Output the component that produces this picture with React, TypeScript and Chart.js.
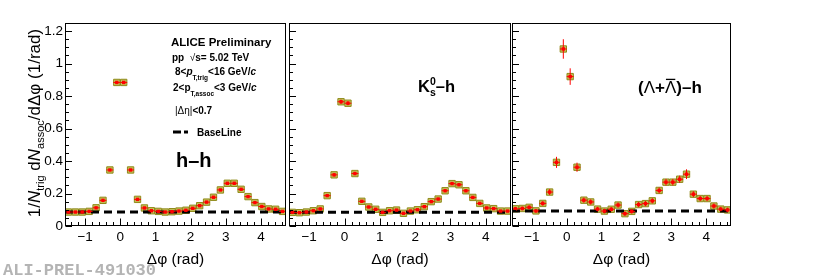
import React, { useEffect, useRef } from "react";
import { Chart, registerables } from "chart.js";

Chart.register(...registerables);

const W = 817;
const H = 278;
const FONT = "'Liberation Sans', Arial, Helvetica, sans-serif";
const MONO = "'Liberation Mono', 'DejaVu Sans Mono', monospace";

const X_MIN = -Math.PI / 2;
const X_MAX = (3 * Math.PI) / 2;
const HALF_BIN = Math.PI / 32;
const Y_MIN = 0;
const Y_MAX = 1.25;

// Δφ bin centres (rad)
const phiBins = [
  -1.4726, -1.2763, -1.0799, -0.8836, -0.6872, -0.4909, -0.2945, -0.0982,
  0.0982, 0.2945, 0.4909, 0.6872, 0.8836, 1.0799, 1.2763, 1.4726,
  1.669, 1.8653, 2.0617, 2.258, 2.4544, 2.6507, 2.8471, 3.0434,
  3.2398, 3.4361, 3.6325, 3.8288, 4.0252, 4.2215, 4.4179, 4.6142,
];

// h–h
const hhValues = [
  0.086, 0.086, 0.086, 0.09, 0.112, 0.158, 0.345, 0.884,
  0.884, 0.345, 0.164, 0.111, 0.094, 0.09, 0.086, 0.088,
  0.092, 0.097, 0.109, 0.125, 0.147, 0.177, 0.222, 0.263,
  0.263, 0.226, 0.181, 0.144, 0.12, 0.105, 0.103, 0.09,
];
const hhErrors = [
  0.003, 0.003, 0.003, 0.003, 0.003, 0.003, 0.004, 0.005,
  0.005, 0.004, 0.003, 0.003, 0.003, 0.003, 0.003, 0.003,
  0.003, 0.003, 0.003, 0.003, 0.003, 0.003, 0.003, 0.004,
  0.004, 0.003, 0.003, 0.003, 0.003, 0.003, 0.003, 0.003,
];
const hhBaseline = 0.086;

// K0s–h
const k0Values = [
  0.084, 0.082, 0.086, 0.094, 0.105, 0.187, 0.315, 0.765,
  0.756, 0.323, 0.152, 0.117, 0.103, 0.084, 0.094, 0.098,
  0.078, 0.092, 0.1, 0.119, 0.15, 0.166, 0.217, 0.261,
  0.254, 0.217, 0.176, 0.139, 0.111, 0.107, 0.092, 0.092,
];
const k0Errors = [
  0.006, 0.006, 0.006, 0.006, 0.007, 0.008, 0.01, 0.013,
  0.013, 0.01, 0.008, 0.007, 0.006, 0.006, 0.006, 0.006,
  0.006, 0.006, 0.006, 0.007, 0.007, 0.007, 0.008, 0.008,
  0.008, 0.008, 0.007, 0.007, 0.006, 0.006, 0.006, 0.006,
];
const k0Baseline = 0.084;

// (Λ+anti-Λ)–h
const lamValues = [
  0.106, 0.108, 0.115, 0.093, 0.139, 0.209, 0.392, 1.09,
  0.92, 0.362, 0.159, 0.148, 0.104, 0.092, 0.103, 0.129,
  0.076, 0.09, 0.132, 0.138, 0.155, 0.219, 0.27, 0.27,
  0.288, 0.319, 0.196, 0.169, 0.169, 0.123, 0.104, 0.099,
];
const lamErrors = [
  0.012, 0.012, 0.012, 0.012, 0.014, 0.018, 0.034, 0.06,
  0.051, 0.028, 0.016, 0.016, 0.014, 0.014, 0.014, 0.016,
  0.014, 0.014, 0.016, 0.016, 0.016, 0.018, 0.02, 0.02,
  0.022, 0.03, 0.018, 0.016, 0.016, 0.016, 0.014, 0.014,
];
const lamBaseline = 0.092;

const xTickValues = [-1, 0, 1, 2, 3, 4];
const xTickLabels = ["\u22121", "0", "1", "2", "3", "4"];
const yTickValues = [0, 0.2, 0.4, 0.6, 0.8, 1, 1.2];
const yTickLabels = ["0", "0.2", "0.4", "0.6", "0.8", "1", "1.2"];

const BOX_FILL = "rgba(186,180,60,0.85)";
const BOX_EDGE = "#8f8a1a";
const MARKER = "#ff0000";

type Seg = {
  t: string;
  size: number;
  bold?: boolean;
  italic?: boolean;
  dy?: number;
  family?: string;
  overline?: boolean;
  noAdvance?: boolean;
};

function drawRich(ctx: CanvasRenderingContext2D, x: number, y: number, segs: Seg[]) {
  let cx = x;
  ctx.textAlign = "left";
  ctx.textBaseline = "alphabetic";
  for (const s of segs) {
    ctx.font = `${s.italic ? "italic " : ""}${s.bold ? "bold " : ""}${s.size}px ${s.family || FONT}`;
    ctx.fillText(s.t, cx, y + (s.dy || 0));
    const w = ctx.measureText(s.t).width;
    if (s.overline) {
      ctx.save();
      ctx.lineWidth = 1.3;
      ctx.beginPath();
      const oy = y + (s.dy || 0) - s.size * 0.8;
      ctx.moveTo(cx + 1, oy);
      ctx.lineTo(cx + w - 1, oy);
      ctx.strokeStyle = ctx.fillStyle as string;
      ctx.stroke();
      ctx.restore();
    }
    if (!s.noAdvance) cx += w;
  }
  return cx;
}

function richWidth(ctx: CanvasRenderingContext2D, segs: Seg[]) {
  let w = 0;
  for (const s of segs) {
    ctx.font = `${s.italic ? "italic " : ""}${s.bold ? "bold " : ""}${s.size}px ${s.family || FONT}`;
    if (!s.noAdvance) w += ctx.measureText(s.t).width;
  }
  return w;
}

function drawPanel1Text(ctx: CanvasRenderingContext2D) {
  ctx.fillStyle = "#000";
  drawRich(ctx, 171, 46, [{ t: "ALICE Preliminary", size: 11.5, bold: true }]);
  drawRich(ctx, 172, 60.5, [
    { t: "pp  ", size: 10, bold: true },
    { t: "\u221A", size: 10 },
    { t: "s= 5.02 TeV", size: 10, bold: true },
  ]);
  drawRich(ctx, 175, 74.5, [
    { t: "8<", size: 10, bold: true },
    { t: "p", size: 10, bold: true, italic: true },
    { t: "T,trig", size: 6.5, bold: true, dy: 5 },
    { t: "<16 GeV/", size: 10, bold: true },
    { t: "c", size: 10, bold: true, italic: true },
  ]);
  drawRich(ctx, 173, 91, [
    { t: "2<p", size: 10, bold: true },
    { t: "T,assoc", size: 6.5, bold: true, dy: 5 },
    { t: "<3 GeV/", size: 10, bold: true },
    { t: "c", size: 10, bold: true, italic: true },
  ]);
  drawRich(ctx, 175, 113.5, [
    { t: "|\u0394\u03B7|", size: 10 },
    { t: "<0.7", size: 10, bold: true },
  ]);
  // legend sample
  ctx.save();
  ctx.strokeStyle = "#000";
  ctx.lineWidth = 3;
  ctx.setLineDash([8, 3]);
  ctx.beginPath();
  ctx.moveTo(173, 132);
  ctx.lineTo(188, 132);
  ctx.stroke();
  ctx.restore();
  drawRich(ctx, 197, 135.5, [{ t: "BaseLine", size: 10, bold: true }]);
  drawRich(ctx, 176, 167, [{ t: "h\u2013h", size: 20, bold: true }]);

  // y-axis title (rotated)
  const ySegs: Seg[] = [
    { t: "1/", size: 17 },
    { t: "N", size: 17, italic: true },
    { t: "trig", size: 11, dy: 4 },
    { t: " d", size: 17 },
    { t: "N", size: 17, italic: true },
    { t: "assoc", size: 11, dy: 4 },
    { t: "/d\u0394\u03C6 (1/rad)", size: 17 },
  ];
  const tw = richWidth(ctx, ySegs);
  ctx.save();
  ctx.translate(39.5, 123 + tw / 2);
  ctx.rotate(-Math.PI / 2);
  drawRich(ctx, 0, 0, ySegs);
  ctx.restore();

  // watermark
  ctx.save();
  ctx.fillStyle = "#b4b4b4";
  ctx.font = `bold 17px ${MONO}`;
  ctx.textAlign = "left";
  ctx.textBaseline = "alphabetic";
  ctx.fillText("ALI-PREL-491030", 3, 275);
  ctx.restore();
}

function drawPanel2Text(ctx: CanvasRenderingContext2D) {
  ctx.fillStyle = "#000";
  let cx = drawRich(ctx, 418, 91.5, [{ t: "K", size: 16.5, bold: true }]);
  drawRich(ctx, cx, 91.5, [{ t: "0", size: 10.5, bold: true, dy: -7 }]);
  cx = drawRich(ctx, cx, 91.5, [{ t: "s", size: 10.5, bold: true, dy: 4 }]);
  drawRich(ctx, cx, 91.5, [{ t: "\u2013h", size: 16.5, bold: true }]);
}

function drawPanel3Text(ctx: CanvasRenderingContext2D) {
  ctx.fillStyle = "#000";
  drawRich(ctx, 638, 93, [
    { t: "(", size: 17, bold: true },
    { t: "\u039B", size: 17 },
    { t: "+", size: 17, bold: true },
    { t: "\u039B", size: 17, overline: true },
    { t: ")", size: 17, bold: true },
    { t: "\u2013h", size: 17, bold: true },
  ]);
}

type PanelDef = {
  values: number[];
  errors: number[];
  baseline: number;
  left: number;
  right: number;
  showY: boolean;
  text: (ctx: CanvasRenderingContext2D) => void;
};

const PANELS: PanelDef[] = [
  { values: hhValues, errors: hhErrors, baseline: hhBaseline, left: 65, right: 286, showY: true, text: drawPanel1Text },
  { values: k0Values, errors: k0Errors, baseline: k0Baseline, left: 289, right: 511, showY: false, text: drawPanel2Text },
  { values: lamValues, errors: lamErrors, baseline: lamBaseline, left: 512, right: 731, showY: false, text: drawPanel3Text },
];

function makePlugin(p: PanelDef) {
  return {
    id: "rootFrame",
    afterDatasetsDraw(chart: any) {
      const { ctx, chartArea: a, scales } = chart;
      const x = scales.x;
      const y = scales.y;
      ctx.save();
      // error bars
      ctx.strokeStyle = MARKER;
      ctx.lineWidth = 1;
      p.values.forEach((v, i) => {
        const px = x.getPixelForValue(phiBins[i]);
        const py = y.getPixelForValue(v);
        const e = p.errors[i];
        ctx.beginPath();
        ctx.moveTo(px, y.getPixelForValue(v - e));
        ctx.lineTo(px, y.getPixelForValue(v + e));
        ctx.moveTo(x.getPixelForValue(phiBins[i] - HALF_BIN), py);
        ctx.lineTo(x.getPixelForValue(phiBins[i] + HALF_BIN), py);
        ctx.stroke();
      });
      // frame
      ctx.strokeStyle = "#000";
      ctx.lineWidth = 1;
      const l = Math.round(a.left) + 0.5;
      const r = Math.round(a.right) - 0.5;
      const t = Math.round(a.top) + 0.5;
      const b = Math.round(a.bottom) - 0.5;
      ctx.strokeRect(l, t, r - l, b - t);
      // y ticks (inside, left)
      ctx.beginPath();
      for (let k = 0; k <= 25; k++) {
        const v = k * 0.05;
        if (v > Y_MAX + 1e-9) break;
        const major = k % 4 === 0;
        const py = Math.round(y.getPixelForValue(v)) + 0.5;
        ctx.moveTo(l, py);
        ctx.lineTo(l + (major ? 6.5 : 3.5), py);
      }
      // x ticks (inside, bottom)
      for (let k = -7; k <= 23; k++) {
        const v = k * 0.2;
        const major = k % 5 === 0;
        const px = Math.round(x.getPixelForValue(v)) + 0.5;
        ctx.moveTo(px, b);
        ctx.lineTo(px, b - (major ? 7 : 3.5));
      }
      ctx.stroke();
      ctx.restore();
      ctx.save();
      p.text(ctx);
      ctx.restore();
    },
  };
}

function makeConfig(p: PanelDef): any {
  const pts = phiBins.map((x, i) => ({ x, y: p.values[i] }));
  return {
    type: "scatter",
    data: {
      datasets: [
        {
          label: "sys",
          data: pts,
          pointStyle: "rect",
          pointRadius: 4.5,
          backgroundColor: BOX_FILL,
          borderColor: BOX_EDGE,
          borderWidth: 1,
          order: 3,
        },
        {
          label: "BaseLine",
          type: "line",
          data: [
            { x: X_MIN, y: p.baseline },
            { x: X_MAX, y: p.baseline },
          ],
          borderColor: "#000",
          borderWidth: 3,
          borderDash: [8, 5],
          pointRadius: 0,
          fill: false,
          order: 2,
        },
        {
          label: "data",
          data: pts,
          pointStyle: "rect",
          pointRadius: 2.4,
          backgroundColor: MARKER,
          borderColor: MARKER,
          borderWidth: 0,
          order: 1,
        },
      ],
    },
    options: {
      animation: false,
      responsive: false,
      maintainAspectRatio: false,
      events: [],
      layout: {
        padding: { left: p.showY ? 0 : p.left, right: W - p.right, top: 23, bottom: 0 },
      },
      plugins: { legend: { display: false }, tooltip: { enabled: false } },
      scales: {
        x: {
          type: "linear",
          min: X_MIN,
          max: X_MAX,
          grid: { display: false, drawTicks: false },
          border: { display: false },
          afterBuildTicks: (s: any) => {
            s.ticks = xTickValues.map((v) => ({ value: v }));
          },
          afterFit: (s: any) => {
            s.height = H - 226;
          },
          ticks: {
            autoSkip: false,
            maxRotation: 0,
            minRotation: 0,
            padding: 3,
            color: "#000",
            font: { family: FONT, size: 13.5 },
            callback: (_v: any, i: number) => xTickLabels[i],
          },
          title: {
            display: true,
            text: "\u0394\u03C6 (rad)",
            color: "#000",
            font: { family: FONT, size: 15.5 },
            padding: { top: 0, bottom: 9 },
          },
        },
        y: {
          type: "linear",
          min: Y_MIN,
          max: Y_MAX,
          display: p.showY,
          grid: { display: false, drawTicks: false },
          border: { display: false },
          afterBuildTicks: (s: any) => {
            s.ticks = yTickValues.map((v) => ({ value: v }));
          },
          afterFit: (s: any) => {
            if (p.showY) s.width = p.left;
          },
          ticks: {
            autoSkip: false,
            padding: 2,
            color: "#000",
            font: { family: FONT, size: 13.5 },
            callback: (_v: any, i: number) => yTickLabels[i],
          },
        },
      },
    },
    plugins: [makePlugin(p)],
  };
}

export default function App() {
  const r1 = useRef<HTMLCanvasElement>(null);
  const r2 = useRef<HTMLCanvasElement>(null);
  const r3 = useRef<HTMLCanvasElement>(null);

  useEffect(() => {
    const refs = [r1, r2, r3];
    const charts = PANELS.map((p, i) => new Chart(refs[i].current as HTMLCanvasElement, makeConfig(p)));
    return () => charts.forEach((c) => c.destroy());
  }, []);

  const cs: React.CSSProperties = { position: "absolute", left: 0, top: 0, width: W, height: H };
  return (
    <div style={{ position: "fixed", left: 0, top: 0, width: W, height: H, background: "#fff" }}>
      <canvas ref={r1} width={W} height={H} style={cs} />
      <canvas ref={r2} width={W} height={H} style={cs} />
      <canvas ref={r3} width={W} height={H} style={cs} />
    </div>
  );
}
